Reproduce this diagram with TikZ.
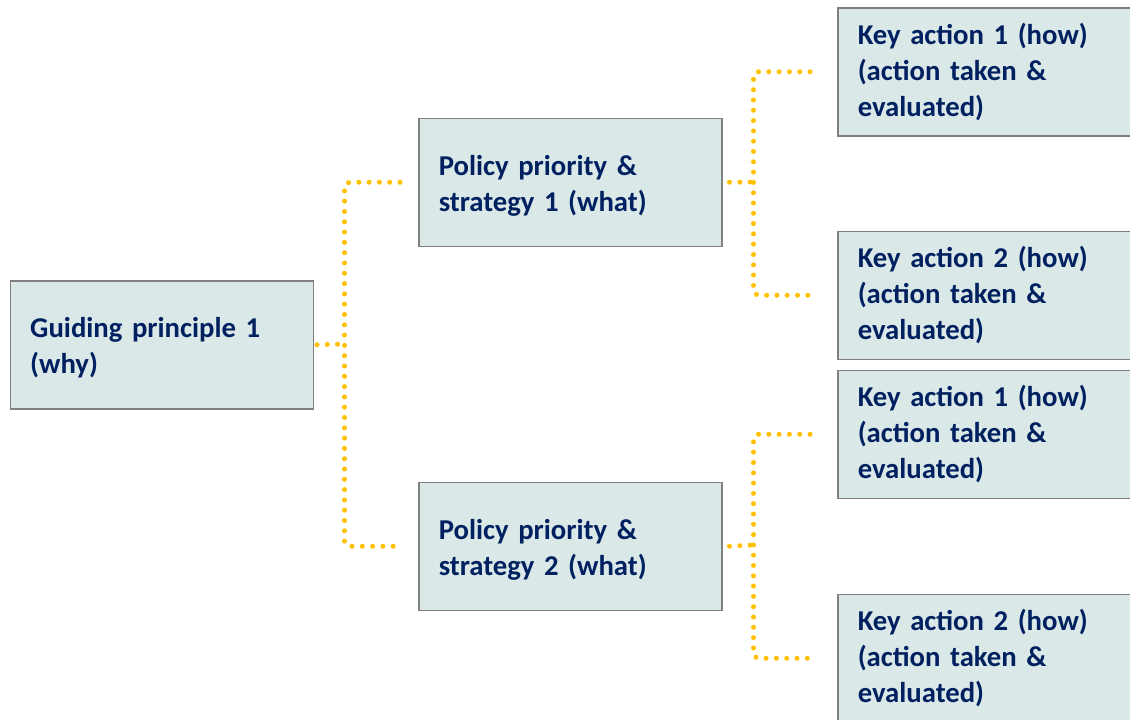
\documentclass[tikz,border=0pt]{standalone}
\usepackage{fontspec}
\setmainfont[WordSpace=0.8]{Carlito}
\definecolor{boxfill}{HTML}{DAE8E8}
\definecolor{boxline}{HTML}{808080}
\definecolor{navy}{HTML}{002060}
\definecolor{gold}{HTML}{FFC000}
\begin{document}
\begin{tikzpicture}[x=1pt,y=-1pt,
  basecard/.style={draw=boxline, line width=1.5pt, fill=boxfill, minimum width=303pt, minimum height=128pt,
    text width=263pt, inner xsep=20pt, inner ysep=0pt, align=left, text=navy,
    font=\fontsize{28.7}{36}\selectfont\bfseries, anchor=north west},
  card/.style={basecard, execute at begin node={\rule{0pt}{27pt}}},
  keycard/.style={basecard},
  dots/.style={draw=gold, line width=5pt, line cap=round, dash pattern=on 0pt off 10.3pt, rounded corners=5pt}]
\useasboundingbox (0,0) rectangle (1130,720);
\clip (0,0) rectangle (1130,720);
\node[card] (G) at (9.5,280) {Guiding principle 1\\(why)};
\node[card] (P1) at (418,117.5) {Policy priority \&\\strategy 1 (what)};
\node[card] (P2) at (418,481.5) {Policy priority \&\\strategy 2 (what)};
\node[keycard] (K1a) at (837,7) {Key action 1 (how)\\(action taken \&\\evaluated)};
\node[keycard] (K2a) at (837,230.5) {Key action 2 (how)\\(action taken \&\\evaluated)};
\node[keycard] (K1b) at (837,369.5) {Key action 1 (how)\\(action taken \&\\evaluated)};
\node[keycard] (K2b) at (837,593.5) {Key action 2 (how)\\(action taken \&\\evaluated)};
% trunk G -> P1/P2
\coordinate (j1) at (344.5,344);
\coordinate (e1) at ([xshift=-18pt]P1.west);
\coordinate (e2) at ([xshift=-18pt]P2.west);
\draw[dots] ([xshift=3pt]G.east) -- (j1);
\draw[dots] (e1) -- (e1 -| j1) -- (e2 -| j1) -- (e2);
% P1 -> K1a/K2a
\coordinate (j2) at (753.5,182);
\coordinate (f1) at ([xshift=-27pt]K1a.west);
\coordinate (f2) at ([xshift=-27pt]K2a.west);
\draw[dots] ([xshift=7pt]P1.east) -- (j2);
\draw[dots] (f1) -- (f1 -| j2) -- (f2 -| j2) -- (f2);
% P2 -> K1b/K2b
\coordinate (j3) at (753.5,545);
\coordinate (g1) at ([xshift=-27pt]K1b.west);
\coordinate (g2) at ([xshift=-27pt]K2b.west);
\draw[dots] ([xshift=7pt]P2.east) -- (j3);
\draw[dots] (g1) -- (g1 -| j3) -- (g2 -| j3) -- (g2);
\end{tikzpicture}
\end{document}
